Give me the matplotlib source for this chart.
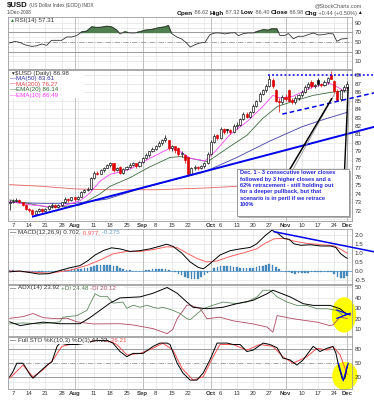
import numpy as np
import pandas as pd
import matplotlib
matplotlib.use("Agg")
import matplotlib.pyplot as plt
from matplotlib.patches import Rectangle, Ellipse

plt.rcParams['font.family'] = ['Liberation Sans', 'DejaVu Sans']

W, H = 374, 400

# trading days Jul 3 - Dec 1 2008
holidays = pd.to_datetime(['2008-07-04', '2008-09-01', '2008-11-27'])
dates = pd.bdate_range('2008-07-03', '2008-12-01')
dates = dates[~dates.isin(holidays)]
n = len(dates)
x = np.arange(n)

opens = [72.9, 73.1, 73.2, 73.3, 73.0, 72.7, 72.2, 72.1, 71.6, 72.0,
         72.2, 72.0, 72.2, 72.6, 72.7, 72.5, 72.7, 73.0, 73.4, 73.3,
         73.6, 73.4, 73.7, 74.2, 74.5, 74.6, 75.9, 76.5, 76.4, 76.8,
         77.1, 77.4, 77.6, 76.8, 77.2, 76.5, 76.9, 77.2, 77.4, 77.6,
         77.3, 77.8, 78.2, 78.6, 79.0, 79.3, 79.6, 80.0, 80.3, 80.3,
         79.4, 79.6, 79.4, 78.7, 78.6, 78.3, 76.4, 77.0, 77.2, 77.0,
         77.3, 77.6, 78.7, 80.1, 80.9, 80.6, 81.7, 81.6, 81.5, 81.3,
         82.0, 82.1, 82.8, 83.4, 83.1, 83.6, 84.4, 84.9, 85.8, 86.2,
         86.7, 87.4, 86.2, 85.0, 84.8, 85.4, 86.2, 85.1, 84.8, 85.3,
         85.6, 86.0, 86.6, 87.2, 86.7, 87.4, 86.9, 86.8, 87.2, 88.0,
         87.3, 86.1, 85.2, 86.2, 86.62]
highs = [73.3, 73.4, 73.5, 73.4, 73.1, 72.8, 72.4, 72.2, 72.1, 72.4,
         72.3, 72.3, 72.7, 72.9, 72.8, 72.8, 73.1, 73.6, 73.5, 73.7,
         73.7, 73.8, 74.3, 74.6, 74.8, 76.0, 76.7, 76.7, 76.9, 77.2,
         77.5, 77.8, 77.7, 77.2, 77.3, 77.0, 77.3, 77.6, 77.8, 77.7,
         77.9, 78.4, 78.8, 79.1, 79.5, 79.8, 80.2, 80.5, 80.9, 80.4,
         79.8, 79.7, 79.5, 79.0, 78.7, 78.4, 77.2, 77.4, 77.3, 77.4,
         77.8, 78.9, 80.3, 81.0, 81.0, 81.9, 81.8, 81.7, 81.6, 82.2,
         82.5, 83.0, 83.6, 83.6, 83.8, 84.6, 85.1, 86.0, 86.4, 86.9,
         88.0, 87.6, 86.4, 85.3, 85.7, 85.8, 86.4, 85.3, 85.5, 85.8,
         86.2, 86.8, 87.2, 87.4, 87.0, 87.6, 87.1, 87.4, 87.8, 88.5,
         87.4, 86.3, 86.4, 86.8, 87.32]
lows = [72.1, 72.9, 73.0, 72.9, 72.6, 72.1, 71.9, 71.3, 71.5, 71.9,
        71.8, 71.9, 72.1, 72.4, 72.3, 72.4, 72.6, 72.9, 73.1, 73.2,
        73.2, 73.3, 73.6, 74.1, 74.3, 74.5, 75.8, 76.2, 76.3, 76.6,
        77.0, 77.2, 76.6, 76.7, 76.3, 76.4, 76.8, 77.0, 77.3, 77.1,
        77.2, 77.7, 78.1, 78.4, 78.9, 79.2, 79.5, 79.8, 80.1, 79.2,
        79.0, 78.8, 78.5, 78.4, 77.7, 76.1, 76.3, 76.8, 76.8, 76.9,
        77.1, 77.5, 78.6, 80.0, 80.4, 80.5, 81.1, 81.2, 81.0, 81.2,
        81.6, 82.0, 82.7, 82.9, 83.0, 83.5, 84.2, 84.8, 85.6, 86.0,
        86.6, 86.5, 84.8, 83.7, 84.6, 85.0, 84.9, 84.6, 84.6, 85.1,
        85.4, 85.9, 86.4, 86.5, 86.5, 86.7, 86.6, 86.7, 87.0, 87.5,
        85.9, 84.9, 85.0, 86.0, 86.40]
closes = [73.1, 73.2, 73.3, 73.0, 72.7, 72.2, 72.1, 71.6, 72.0, 72.2,
          72.0, 72.2, 72.6, 72.7, 72.5, 72.7, 73.0, 73.4, 73.3, 73.6,
          73.4, 73.7, 74.2, 74.5, 74.6, 75.9, 76.5, 76.4, 76.8, 77.1,
          77.4, 77.6, 76.8, 77.0, 76.5, 76.9, 77.2, 77.4, 77.6, 77.3,
          77.8, 78.2, 78.6, 79.0, 79.3, 79.6, 80.0, 80.3, 80.6, 79.4,
          79.6, 79.2, 78.7, 78.8, 78.0, 76.4, 77.0, 77.2, 77.0, 77.3,
          77.6, 78.7, 80.1, 80.8, 80.6, 81.7, 81.3, 81.5, 81.3, 82.0,
          82.1, 82.8, 83.4, 83.1, 83.6, 84.4, 84.9, 85.8, 86.2, 86.7,
          87.5, 86.7, 85.0, 84.8, 85.4, 85.2, 85.0, 84.8, 85.3, 85.6,
          86.0, 86.6, 87.0, 86.7, 86.8, 86.9, 86.8, 87.2, 87.7, 87.5,
          86.1, 85.1, 86.2, 86.6, 86.98]

# overlays: (day index, value)
ma50_x = [0, 10, 20, 30, 40, 50, 55, 60, 70, 80, 90, 97, 104]
ma50_y = [73.0, 72.9, 72.9, 73.4, 74.6, 75.6, 76.1, 76.6, 78.3, 80.2, 81.9, 82.8, 83.61]
ma200_x = [0, 10, 20, 30, 45, 60, 75, 90, 104]
ma200_y = [75.1, 74.9, 74.6, 74.5, 74.5, 74.7, 75.0, 75.6, 76.27]
ema10_x = [0, 7, 12.4, 16.4, 21.7, 24.7, 27.8, 30.9, 34, 37, 43.2, 49.4, 52.5, 55.6,
           60.2, 63.3, 67.9, 73.1, 78, 81.1, 83.3, 87.3, 93.5, 98.7, 100.9, 102.7, 104]
ema10_y = [73.1, 72.7, 72.5, 72.6, 73.2, 74.1, 75.5, 76.3, 76.6, 76.9, 78.2, 79.4, 79.0, 78.2,
           77.9, 79.0, 81.0, 82.5, 84.3, 85.6, 85.3, 85.5, 86.6, 87.0, 86.6, 86.2, 86.49]
ema20_x = [0, 12.4, 21.7, 27.8, 30.9, 37, 43.2, 49.4, 52.5, 55.6, 61, 67.9, 73.1, 78,
           82.5, 87.3, 93.5, 99.6, 104]
ema20_y = [73.3, 72.4, 72.7, 74.0, 74.9, 75.9, 77.2, 78.3, 78.4, 78.2, 77.8, 79.6, 80.9, 82.9,
           84.3, 84.9, 85.6, 86.0, 86.14]

rsi_x = [0, 1.6, 3.2, 4.7, 6.8, 8.3, 9.9, 11.4, 12.9, 14.5, 16, 17.6, 19.1, 20.6, 22.2, 23.7,
         25.3, 26.8, 28.3, 29.9, 31.4, 33, 34, 35.5, 37, 38.6, 40.1, 41.7, 43.7, 45.8, 47.9,
         48.9, 49.9, 51.5, 53, 54.5, 55.6, 57.1, 58.6, 60.2, 61.7, 63.3, 64.8, 66.3, 67.9,
         69.4, 70.5, 72, 73.5, 75.1, 76.6, 78.2, 79.7, 80.7, 82.3, 83.3, 84.8, 85.9, 87.4,
         88.9, 90.5, 92, 93.6, 95.1, 96.7, 98.2, 99.7, 100.8, 102.3, 104]
rsi_y = [47.9, 51.4, 49, 44, 40.8, 42, 45.8, 43, 53.5, 53.5, 53.5, 60.6, 60.6, 63.4, 71, 72.6,
         81.8, 80.4, 81, 83, 81.8, 74.7, 67, 71.2, 69, 69, 71.2, 74.7, 76, 79.7, 81.8,
         84.6, 67.7, 60.6, 56.4, 47.9, 39.4, 44.3, 47.9, 49.3, 65.6, 69, 69, 67, 69,
         69.5, 63.4, 67.7, 69, 69, 72.6, 76, 74.7, 77.6, 77.6, 63.4, 64, 67.7, 57,
         62, 62, 65.6, 69, 64.8, 65.6, 67.7, 67, 51.4, 56.4, 57.31]

macd_x = [0, 3, 6, 9, 12, 15.5, 18.6, 21.7, 24.2, 26.3, 28.9, 31.4, 34, 37, 40, 43.2, 46.3,
          48.4, 50.4, 53, 55.6, 58.1, 59.7, 61.7, 64.8, 67.9, 71, 74.1, 76.1, 78.7, 80.8,
          82.5, 84.5, 86.1, 87.6, 89.7, 92.8, 95.8, 98.9, 100.5, 102, 103.5, 104]
macd_y = [-0.05, 0.0, -0.08, -0.17, -0.15, 0.03, 0.18, 0.3, 0.58, 0.88, 1.13, 1.28, 1.22, 1.08,
          1.12, 1.22, 1.37, 1.48, 1.35, 0.99, 0.5, 0.2, 0.12, 0.4, 0.88, 1.12, 1.22, 1.3, 1.5,
          1.95, 2.25, 2.1, 1.8, 1.75, 1.5, 1.42, 1.45, 1.38, 1.38, 1.3, 0.95, 0.75, 0.702]
signal_x = [0, 6.3, 12.4, 18.6, 23.7, 27.8, 31.9, 36, 40.1, 44.2, 48.4, 51.5, 54.5, 57.6,
            60.7, 63.8, 67.9, 72, 76.1, 78.4, 81.5, 84.5, 87.6, 91.7, 95.8, 100, 102.5, 104]
signal_y = [0.0, -0.06, -0.12, 0.04, 0.3, 0.6, 0.95, 1.08, 1.08, 1.18, 1.34, 1.3, 1.0, 0.7,
            0.5, 0.55, 0.8, 1.0, 1.22, 1.5, 1.78, 1.8, 1.65, 1.52, 1.46, 1.39, 1.15, 0.977]
hist = [0.05, 0.03, 0.0, -0.02,
        -0.04, -0.06, -0.07, -0.08, -0.07, -0.06, -0.05, -0.04, -0.03, -0.02, 0.0, 0.02,
        0.04, 0.06, 0.08, 0.09, 0.10, 0.11, 0.12, 0.14,
        0.18, 0.22, 0.27, 0.31, 0.34, 0.35, 0.34, 0.33,
        0.30, 0.25, 0.19, 0.13, 0.08, 0.04, 0.02, 0.01,
        -0.01, 0.0, 0.03, 0.06, 0.09, 0.11, 0.12, 0.12, 0.10, 0.06,
        0.0, -0.07, -0.15, -0.23, -0.31, -0.38, -0.42, -0.44, -0.42, -0.35, -0.25, -0.12,
        0.02, 0.15, 0.24, 0.28, 0.29, 0.28, 0.26, 0.24, 0.21, 0.18,
        0.16, 0.15, 0.15, 0.17, 0.20, 0.25, 0.30, 0.35, 0.38, 0.33, 0.22, 0.10, 0.02,
        -0.04, -0.08, -0.12, -0.14, -0.13, -0.12, -0.10, -0.09, -0.08, -0.07, -0.07, -0.07,
        -0.06, -0.06, -0.07,
        -0.18, -0.32, -0.40, -0.38, -0.275]

adx_x = [0, 3.2, 6.3, 10.3, 15.5, 21.7, 24.7, 27.8, 30.9, 34, 40.2, 44.2, 48.5, 51.6, 54.6,
         56.5, 60.8, 65.7, 70, 75, 79.3, 81.1, 86.4, 90.4, 93.5, 98.7, 101.8, 104]
adx_y = [17, 13.4, 15, 16.7, 15.2, 15.2, 21, 28, 35, 40, 41, 44.5, 50, 44.5, 36,
         31, 29.6, 31, 34.5, 37.7, 44, 47.4, 41, 34.5, 32.8, 32.8, 29.6, 23.92]
pdi_x = [0, 4.1, 9.3, 15.5, 16.4, 20.7, 23.8, 26.3, 27.8, 30, 31.9, 34.9, 36.1, 38, 40.2,
         42.3, 44.2, 45.7, 47.2, 50.3, 52.5, 54.6, 55.6, 59.6, 62.7, 65.7, 70, 73.1, 76.2,
         78.1, 80.2, 82.4, 85.5, 88.5, 91.6, 94.7, 97.8, 100.9, 102.7, 104]
pdi_y = [15, 16, 15, 17, 21.5, 23, 28, 44, 41.5, 41.5, 35, 36, 30, 33, 31,
         33, 31, 30, 31, 28, 25, 20, 19, 29.7, 33, 36, 34.5, 36, 41,
         47.4, 47.4, 41, 36, 32.8, 32.8, 29.6, 29.6, 28, 23, 24.48]
mdi_x = [0, 4.1, 7.2, 10.3, 14.6, 17.7, 20.7, 25.7, 34, 38, 44.2, 48.5, 50.3, 51.6, 54.6,
         55.6, 58.7, 60.8, 64.8, 68.8, 75, 79.3, 81.1, 82.4, 87.3, 94.7, 98.7, 99.6, 101.8, 104]
mdi_y = [20.4, 22, 25, 21, 20, 20.5, 17, 15, 15.2, 14, 10.5, 5.6, 10, 20, 33,
         33, 29.8, 20, 21.5, 18, 15, 12, 7, 23, 20, 16.7, 13.4, 14, 21.5, 20.12]

stok_x = [0, 1, 2.2, 4.1, 5, 6.3, 7.2, 9.3, 11.5, 13, 14.6, 15.5, 17.7, 20.7, 23.8, 26, 30,
          31.8, 34, 36.1, 38, 41.1, 44.2, 46.3, 48.5, 49.4, 51.6, 53.4, 55.6, 57.7, 59.6,
          61.7, 63.9, 67, 68.8, 71, 73.1, 75, 78.1, 80.2, 82.4, 84.2, 86.4, 88.5, 90.4,
          93.5, 95.6, 97.8, 99.6, 100.5, 101.5, 102.5, 103.3, 104]
stok_y = [21, 32, 50, 50, 40, 25, 18, 32, 46, 53, 86, 93, 90, 90, 93, 98, 99,
          93, 75, 64, 71, 71, 86, 93, 93, 90, 50, 29, 14, 14, 29,
          57, 93, 93, 90, 90, 75, 78, 93, 90, 83, 61, 57, 46, 57,
          86, 75, 82, 86, 72, 40, 16, 18, 44.22]
stod_x = [0, 4.1, 7.2, 10.3, 13.3, 16.1, 18.6, 24, 28, 31.5, 33, 36.1, 40.2, 44.2, 47.2,
          50.3, 53.1, 56.5, 59.6, 62.7, 64.8, 68.8, 73.1, 77.1, 81.1, 84.2, 87.3, 91.6,
          94.7, 97.8, 99.6, 101.8, 104]
stod_y = [18, 46, 21, 36, 57, 86, 90, 96, 99, 95, 90, 68, 71, 82, 93,
          78, 39, 14, 21, 64, 90, 90, 78, 90, 86, 64, 50, 64,
          82, 78, 86, 68, 26.21]

# hand drawn annotations (day index, value)
trend_x, trend_y = [7.2, 112.3], [71.35, 81.9]
dash_x, dash_y = [84, 112.3], [83.4, 85.9]
top_x, top_y = [79.6, 112.3], [88.0, 88.0]
call1_x, call1_y = [86.4, 99.2], [76.95, 85.2]
call1b_x, call1b_y = [87.4, 100.2], [76.95, 85.85]
call2_x, call2_y = [103.2, 104.3], [76.95, 86.5]
call2b_x, call2b_y = [103.9, 104.6], [76.95, 85.0]
macd_tl_x, macd_tl_y = [81.5, 112.3], [2.17, 1.06]
adx_x1, adx_y1 = [100.8, 104.9], [28.4, 23.6]
adx_x2, adx_y2 = [100.8, 104.9], [20.4, 25.2]
sto_v_x, sto_v_y = [101.3, 102.8, 104.3], [49.9, 12.7, 49.9]

note = ("Dec. 1 - 3 consecutive lower closes\nfollowed by 3 higher closes and a\n"
        "62% retracement - still holding out\nfor a deeper pullback, but that\n"
        "scenario is in peril if we retrace\n100%")

XL = (-0.52, 105.48)

fig = plt.figure(figsize=(W / 100, H / 100), dpi=100)
fig.patch.set_facecolor('white')


def px_ax(top, bottom):
    return fig.add_axes([8 / W, 1 - bottom / H, 344 / W, (bottom - top) / H])


week_pos = [i for i in range(1, n)
            if dates[i].isocalendar()[1] != dates[i - 1].isocalendar()[1]]
month_pos = [i for i in range(1, n) if dates[i].month != dates[i - 1].month]
tick_text = {w: str(dates[w].day) for w in week_pos}
for m in month_pos:
    near = min(week_pos, key=lambda w: abs(w - m))
    tick_text.pop(near, None)
    tick_text[m] = dates[m].strftime('%b')
tick_pos = sorted(tick_text)


def style(ax, ylim, ticks, labels, grid):
    ax.set_xlim(XL)
    ax.set_ylim(ylim)
    ax.set_facecolor('white')
    ax.yaxis.tick_right()
    ax.set_yticks(ticks)
    ax.set_yticklabels(labels)
    ax.tick_params(axis='y', length=0, pad=2, labelsize=4.5, labelcolor='#333333')
    ax.tick_params(axis='x', length=0, labelbottom=False)
    for s in ax.spines.values():
        s.set_color('#9a9a9a')
        s.set_linewidth(0.6)
    for g in grid:
        ax.axhline(g, color='#e3e3e3', lw=0.5, zorder=0)
    for w in week_pos:
        ax.axvline(w, color='#e3e3e3', lw=0.5, zorder=0)
    for m in month_pos:
        ax.axvline(m, color='#b8b8b8', lw=0.6, zorder=0)


def date_labels(ax):
    ax.set_xticks(tick_pos)
    ax.set_xticklabels([tick_text[p] for p in tick_pos])
    ax.tick_params(axis='x', labelbottom=True, labelsize=4.3, pad=1.5, labelcolor='#333333')
    for lab in ax.get_xticklabels():
        if not lab.get_text().isdigit():
            lab.set_fontweight('bold')


# RSI
ax_rsi = px_ax(17, 69)
style(ax_rsi, (-6.8, 102.6), [10, 30, 50, 70, 90], ['10', '30', '50', '70', '90'],
      [10, 20, 40, 60, 80, 90])
ax_rsi.axhline(70, color='#999999', lw=0.7, zorder=1)
ax_rsi.axhline(30, color='#999999', lw=0.7, zorder=1)
ax_rsi.axhline(50, color='#999999', lw=0.6, ls='-.', zorder=1)
rx, ry = np.array(rsi_x), np.array(rsi_y)
ax_rsi.fill_between(rx, 70, ry, where=ry >= 70, interpolate=True, color='#4f7f4f', zorder=2)
ax_rsi.plot(rx, ry, color='#333333', lw=0.6, zorder=3)

# price
ax_p = px_ax(70, 221)
style(ax_p, (70.82, 88.59), list(range(72, 89)), [str(v) for v in range(72, 89)],
      list(range(71, 89)))
date_labels(ax_p)
ax_p.plot(ma200_x, ma200_y, color='#e86060', lw=0.6, zorder=2)
ax_p.plot(ma50_x, ma50_y, color='#4040a8', lw=0.6, zorder=2)
ax_p.plot(ema20_x, ema20_y, color='#3d6b3d', lw=0.6, zorder=2)
ax_p.plot(ema10_x, ema10_y, color='#ff40ff', lw=0.6, zorder=2)
prev = [opens[0]] + closes[:-1]
for i in range(n):
    col = '#dd0000' if closes[i] < prev[i] else '#000000'
    ax_p.vlines(x[i], lows[i], highs[i], color=col, lw=0.5, zorder=3)
    lo, hi = min(opens[i], closes[i]), max(opens[i], closes[i])
    face = col if closes[i] < opens[i] else 'white'
    ax_p.add_patch(Rectangle((x[i] - 0.32, lo), 0.64, max(hi - lo, 0.04),
                             facecolor=face, edgecolor=col, lw=0.45, zorder=4))
ax_p.plot(trend_x, trend_y, color='#0000ee', lw=1.4, zorder=5, clip_on=False)
ax_p.plot(dash_x, dash_y, color='#0000ee', lw=1.1, ls=(0, (3, 2)), zorder=5, clip_on=False)
ax_p.plot(top_x, top_y, color='#0000ee', lw=1.1, ls=(0, (1.2, 1.5)), zorder=5, clip_on=False)
ax_p.plot(call1b_x, call1b_y, color='#999999', lw=0.6, zorder=6)
ax_p.plot(call1_x, call1_y, color='#000000', lw=1.1, zorder=6)
ax_p.plot(call2b_x, call2b_y, color='#999999', lw=0.6, zorder=6)
ax_p.plot(call2_x, call2_y, color='#000000', lw=1.0, zorder=6)

# MACD
ax_m = px_ax(229, 284)
style(ax_m, (-0.72, 2.32), [-0.5, 0, 0.5, 1.0, 1.5, 2.0],
      ['-0.5', '0.0', '0.5', '1.0', '1.5', '2.0'], [-0.5, 0, 0.5, 1.0, 1.5, 2.0])
ax_m.bar(x, hist, width=0.5, color='#4a8fc4', edgecolor='#2f6f9f', lw=0.2, zorder=2)
ax_m.axhline(0, color='#4a8fc4', lw=0.5, zorder=2)
ax_m.plot(signal_x, signal_y, color='#ff6060', lw=0.7, zorder=3)
ax_m.plot(macd_x, macd_y, color='#000000', lw=0.7, zorder=4)
ax_m.plot(macd_tl_x, macd_tl_y, color='#0000ee', lw=1.1, zorder=5, clip_on=False)

# ADX
ax_a = px_ax(285, 336)
style(ax_a, (3.4, 52.4), [10, 20, 30, 40, 50], ['10', '20', '30', '40', '50'],
      [10, 20, 30, 40, 50])
ax_a.add_patch(Ellipse((103.0, 23.6), 7.1, 32.7, color='#ffff00', zorder=1.5, clip_on=False))
ax_a.plot(mdi_x, mdi_y, color='#b04860', lw=0.6, zorder=3)
ax_a.plot(pdi_x, pdi_y, color='#5a8a5a', lw=0.6, zorder=3)
ax_a.plot(adx_x, adx_y, color='#000000', lw=0.7, zorder=4)
ax_a.plot(adx_x1, adx_y1, color='#0000ee', lw=0.9, zorder=5, clip_on=False)
ax_a.plot(adx_x2, adx_y2, color='#0000ee', lw=0.9, zorder=5, clip_on=False)

# Full STO
ax_s = px_ax(337, 389)
style(ax_s, (-5, 106), [20, 50, 80], ['20', '50', '80'], [10, 30, 40, 60, 70, 90])
date_labels(ax_s)
ax_s.axhline(80, color='#999999', lw=0.7, zorder=1)
ax_s.axhline(20, color='#999999', lw=0.7, zorder=1)
ax_s.axhline(50, color='#999999', lw=0.6, ls='-.', zorder=1)
ax_s.add_patch(Ellipse((103.3, 22.8), 7.4, 57.6, color='#ffff00', zorder=1.5, clip_on=False))
ax_s.plot(stod_x, stod_y, color='#ff5050', lw=0.7, zorder=3)
ax_s.plot(stok_x, stok_y, color='#000000', lw=0.7, zorder=4)
ax_s.plot(sto_v_x, sto_v_y, color='#0000ee', lw=0.9, zorder=5, clip_on=False)

# ---- texts (figure pixels) ----
renderer = fig.canvas.get_renderer()


def put(xp, yp, parts, align='left'):
    objs = []
    for s, kw in parts:
        objs.append(fig.text(0, 1 - yp / H, s, va='center', ha='left', zorder=5, **kw))
    widths = [t.get_window_extent(renderer).width for t in objs]
    cur = xp - sum(widths) if align == 'right' else xp
    for t, w in zip(objs, widths):
        t.set_x(cur / W)
        cur += w
    return cur


def white_box(x0, y0, x1, y1):
    fig.add_artist(Rectangle((x0 / W, 1 - y1 / H), (x1 - x0) / W, (y1 - y0) / H,
                             transform=fig.transFigure, fc='white', ec='none', zorder=2))


put(7, 6, [('$USD', dict(fontsize=5.6, fontweight='bold', color='#111111')),
           (' (US Dollar Index (EOD)) INDX', dict(fontsize=3.4, color='#444444'))])
put(7, 13, [('1-Dec-2008', dict(fontsize=3.4, color='#444444'))])
put(362, 5.5, [('@StockCharts.com', dict(fontsize=4.0, color='#555555'))], align='right')
hb = dict(fontsize=4.6, fontweight='bold', color='#111111')
hv = dict(fontsize=4.0, color='#555555')
put(362, 13, [('Open', hb), (' 86.62 ', hv), ('High', hb), (' 87.32 ', hv), ('Low', hb),
              (' 86.40 ', hv), ('Close', hb), (' 86.98 ', hv), ('Chg', hb),
              (' +0.44 (+0.50%)', hv), ('\u25b2', dict(fontsize=3.4, color='#111111'))],
    align='right')

lg = dict(fontsize=4.5)
white_box(9, 18, 60, 23)
put(10, 20.5, [('\u25b2', dict(fontsize=3.6, color='#2e7d2e')),
               ('RSI(14) 57.31', dict(lg, color='#333333'))])

white_box(9, 71, 84, 98)
put(10, 73, [('\u25bc', dict(fontsize=3.4, color='#333333')),
             ('$USD (Daily) 86.98', dict(lg, color='#333333'))])
for k, (lab, col) in enumerate([('MA(50) 83.61', '#3030a0'), ('MA(200) 76.27', '#e04040'),
                                ('EMA(20) 86.14', '#2f5f2f'), ('EMA(10) 86.49', '#ff30ff')]):
    put(10, 78.6 + 5.6 * k, [('\u2014', dict(lg, color=col)), (lab, dict(lg, color=col))])

white_box(9, 230, 128, 235)
put(10, 232.5, [('\u2014 ', dict(lg, color='#000000')),
                ('MACD(12,26,9) 0.702,', dict(lg, color='#333333')),
                (' 0.977,', dict(lg, color='#ff5050')),
                (' -0.275', dict(lg, color='#5a9ad0'))])
white_box(9, 286, 124, 290)
put(10, 288, [('\u2014 ', dict(lg, color='#000000')),
              ('ADX(14) 23.92 ', dict(lg, color='#333333')),
              ('+DI 24.48 ', dict(lg, color='#4a7a4a')),
              ('-DI 20.12', dict(lg, color='#b04860'))])
white_box(9, 338, 90, 343.5)
put(10, 340.7, [('\u2014 ', dict(lg, color='#000000')),
                ('Full STO %K(10,3) %D(3) 44.22,', dict(lg, color='#333333')),
                (' 26.21', dict(lg, color='#ff5050'))])

# note box
fig.add_artist(Rectangle((239 / W, 1 - 218 / H), 112 / W, 47 / H, transform=fig.transFigure,
                         fc='#b0b0b0', ec='none', zorder=2))
fig.add_artist(Rectangle((237 / W, 1 - 216 / H), 112 / W, 47 / H, transform=fig.transFigure,
                         fc='white', ec='#8a8a8a', lw=0.6, zorder=2.1))
fig.text(239.5 / W, 1 - 170.5 / H, note, ha='left', va='top', fontsize=4.1,
         fontweight='bold', color='#2424d8', linespacing=1.32, zorder=5)

fig.savefig('out.png', dpi=100, facecolor='white')
